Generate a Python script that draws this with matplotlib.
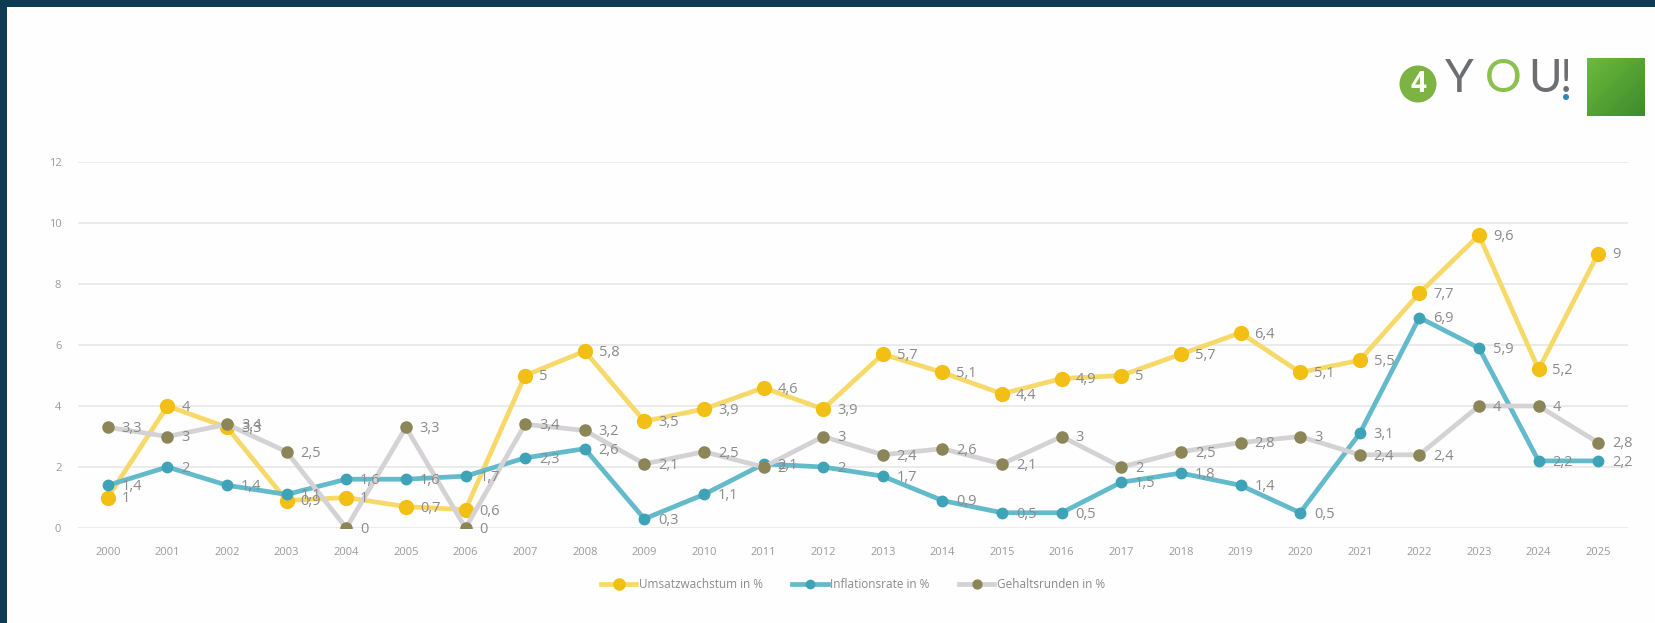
import matplotlib
matplotlib.use("Agg")
import matplotlib.pyplot as plt
import numpy as np
from matplotlib.patches import Rectangle, Circle

plt.rcParams['font.family'] = ['Open Sans', 'DejaVu Sans']

# data
years = [str(y) for y in range(2000, 2026)]
umsatz = [1, 4, 3.3, 0.9, 1, 0.7, 0.6, 5, 5.8, 3.5, 3.9, 4.6, 3.9, 5.7, 5.1, 4.4, 4.9, 5, 5.7, 6.4, 5.1, 5.5, 7.7, 9.6, 5.2, 9]
inflation = [1.4, 2, 1.4, 1.1, 1.6, 1.6, 1.7, 2.3, 2.6, 0.3, 1.1, 2.1, 2, 1.7, 0.9, 0.5, 0.5, 1.5, 1.8, 1.4, 0.5, 3.1, 6.9, 5.9, 2.2, 2.2]
gehalt = [3.3, 3, 3.4, 2.5, 0, 3.3, 0, 3.4, 3.2, 2.1, 2.5, 2, 3, 2.4, 2.6, 2.1, 3, 2, 2.5, 2.8, 3, 2.4, 2.4, 4, 4, 2.8]

series = [
    ('Umsatzwachstum in %', umsatz, '#F7D96A', '#F2C014', 10),
    ('Inflationsrate in %', inflation, '#62BACB', '#3EA3B6', 7.5),
    ('Gehaltsrunden in %', gehalt, '#D4D2D4', '#8B8557', 8),
]

fig = plt.figure(figsize=(16.55, 6.23), dpi=100)
fig.patch.set_facecolor('#FEFEFE')

# dark frame on top and left
fig.patches.append(Rectangle((0, 1 - 7 / 623), 1, 7 / 623, transform=fig.transFigure,
                             fc='#0D3B54', ec='none', zorder=10))
fig.patches.append(Rectangle((0, 0), 7 / 1655, 1, transform=fig.transFigure,
                             fc='#0D3B54', ec='none', zorder=10))

ax = fig.add_axes([78 / 1655, 1 - 528 / 623, 1550 / 1655, 366 / 623])
ax.set_facecolor('none')
x = np.arange(len(years))

for name, vals, lc, mc, ms in series:
    ax.plot(x, vals, color=lc, lw=3.4, marker='o', markersize=ms,
            markerfacecolor=mc, markeredgecolor=mc, label=name, zorder=3)
    for xi, v in zip(x, vals):
        ax.annotate(f'{v:g}'.replace('.', ','), (xi, v), xytext=(10, -1),
                    textcoords='offset points', ha='left', va='center',
                    fontsize=10.5, color='#8A8A8A', zorder=4)

ax.set_xlim(-0.5, len(years) - 0.5)
ax.set_ylim(0, 12)
ax.set_yticks(range(0, 13, 2))
ax.set_xticks(x)
ax.set_xticklabels(years)
ax.tick_params(axis='both', length=0, labelsize=8, labelcolor='#9A9A9A')
ax.tick_params(axis='x', pad=14)
ax.tick_params(axis='y', pad=12)
ax.grid(axis='y', color='#E9E9E9', lw=1.3)
ax.set_axisbelow(True)
for s in ax.spines.values():
    s.set_visible(False)

leg = fig.legend(loc='center', bbox_to_anchor=(853 / 1655, 1 - 585 / 623), ncol=3,
                 frameon=False, fontsize=8.5, handlelength=3, columnspacing=2.5,
                 handletextpad=0.2, markerscale=0.8)
for t in leg.get_texts():
    t.set_color('#8A8A8A')

# logo: green disc with a 4, then the letters, then the gradient square
fig.patches.append(Circle((1418 / 100, (623 - 84) / 100), 0.185, transform=fig.dpi_scale_trans,
                          fc='#7CB342', ec='none', zorder=11))
fig.text(1418 / 1655, 1 - 85 / 623, '4', fontsize=20, fontweight='bold', color='white',
         ha='center', va='center', zorder=12)
for ch, px, col in [('Y', 1459, '#6D6E71'), ('O', 1503, '#8CC152'), ('U', 1545, '#6D6E71'), ('!', 1566, '#6D6E71')]:
    fig.text(px / 1655, 1 - 79 / 623, ch, fontsize=33, color=col, fontfamily='Lato',
             ha='center', va='center')
fig.patches.append(Circle((1566 / 100, (623 - 97) / 100), 0.03, transform=fig.dpi_scale_trans,
                          fc='#2E86C1', ec='none', zorder=11))

lax = fig.add_axes([1587 / 1655, 1 - 116 / 623, 58 / 1655, 58 / 623])
gx, gy = np.meshgrid(np.linspace(0, 1, 50), np.linspace(0, 1, 50))
grad = (gx + gy) / 2
lax.imshow(grad, cmap=matplotlib.colors.LinearSegmentedColormap.from_list('g', ['#6CBB3C', '#3F8A2C']),
           aspect='auto', extent=(0, 1, 0, 1))
lax.axis('off')

fig.savefig('out.png', dpi=100, facecolor=fig.get_facecolor())
